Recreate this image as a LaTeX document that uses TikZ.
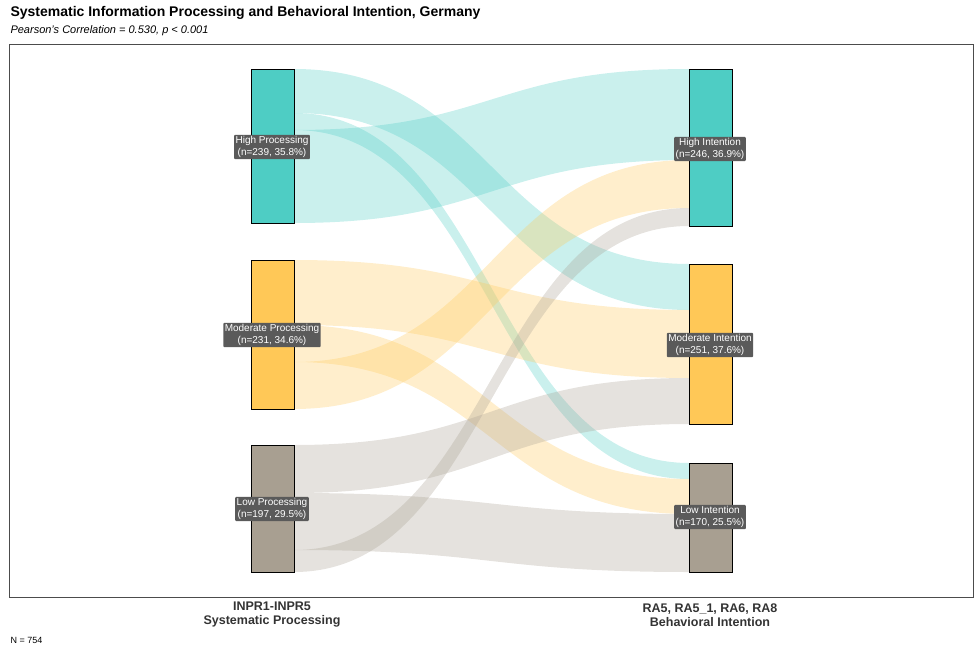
\documentclass[tikz,border=0pt]{standalone}
\usepackage{fontspec}
\setmainfont{Liberation Sans}
\definecolor{cHigh}{HTML}{4ECDC4}
\definecolor{cMod}{HTML}{FFC857}
\definecolor{cLow}{HTML}{A89F91}
\definecolor{lblbg}{HTML}{5A5A5A}
\newcommand{\flowband}[5]{%
  \fill[#5,opacity=0.3] (294,#1) .. controls (491.5,#1) and (491.5,#3) .. (689,#3) -- (689,#4) .. controls (491.5,#4) and (491.5,#2) .. (294,#2) -- cycle;}
\begin{document}
\begin{tikzpicture}[x=1pt,y=-1pt,
  bar/.style={draw=black,line width=0.8pt},
  lbl/.style={fill=lblbg,text=white,font=\fontsize{10}{12}\selectfont,align=center,inner sep=1.5pt,rounded corners=1pt},
  axl/.style={font=\bfseries\fontsize{12.5}{14}\selectfont,align=center,text=black!80}]
\useasboundingbox (0,0) rectangle (980,653);
\node[anchor=west,font=\bfseries\fontsize{14}{16}\selectfont] (title) at (7,13) {Systematic Information Processing and Behavioral Intention, Germany};
\node[anchor=west,font=\itshape\fontsize{11}{13}\selectfont] (sub) at (7,31) {Pearson's Correlation = 0.530, p < 0.001};
\draw[black!70,line width=0.6pt] (9,44) rectangle (973,597);
% flows
\flowband{69}{113}{264}{310}{cHigh}
\flowband{113}{130}{463}{479}{cHigh}
\flowband{130}{223}{69}{160}{cHigh}
\flowband{260}{325}{310}{378}{cMod}
\flowband{325}{362}{479}{514}{cMod}
\flowband{362}{409}{160}{208}{cMod}
\flowband{445}{493}{378}{424}{cLow}
\flowband{493}{550}{514}{572}{cLow}
\flowband{550}{572}{208}{226}{cLow}
% bars
\draw[bar,fill=cHigh] (251,69) rectangle (294,223);
\draw[bar,fill=cMod] (251,260) rectangle (294,409);
\draw[bar,fill=cLow] (251,445) rectangle (294,572);
\draw[bar,fill=cHigh] (689,69) rectangle (732,226);
\draw[bar,fill=cMod] (689,264) rectangle (732,424);
\draw[bar,fill=cLow] (689,463) rectangle (732,572);
% labels
\node[lbl] (lh) at (272,147) {High Processing\\(n=239, 35.8\%)};
\node[lbl] (lm) at (272,335) {Moderate Processing\\(n=231, 34.6\%)};
\node[lbl] (ll) at (272,509) {Low Processing\\(n=197, 29.5\%)};
\node[lbl] (rh) at (710,149) {High Intention\\(n=246, 36.9\%)};
\node[lbl] (rm) at (710,345) {Moderate Intention\\(n=251, 37.6\%)};
\node[lbl] (rl) at (710,517) {Low Intention\\(n=170, 25.5\%)};
\node[axl] (ax1) at (272,615) {INPR1-INPR5\\Systematic Processing};
\node[axl] (ax2) at (710,615) {RA5, RA5\_1, RA6, RA8\\Behavioral Intention};
\node[anchor=west,font=\fontsize{9}{10}\selectfont] (n) at (7,640) {N = 754};
\end{tikzpicture}
\end{document}
